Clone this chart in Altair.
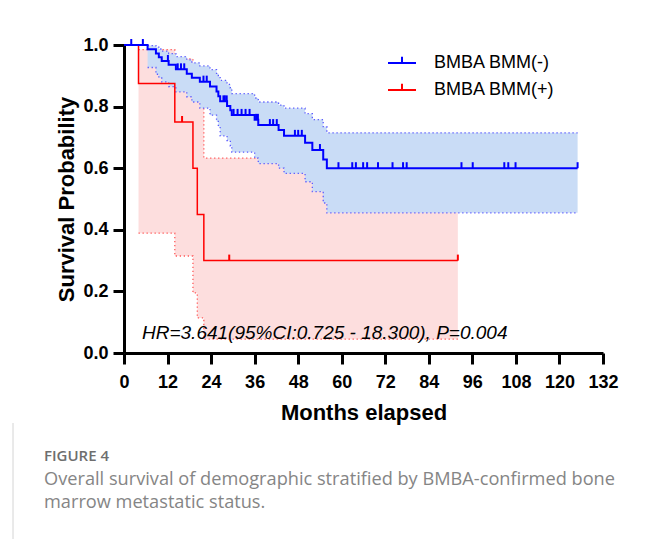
import altair as alt
import numpy as np
import pandas as pd

# ---------------- data ----------------
groups = ["BMBA BMM(-)", "BMBA BMM(+)"]

# Kaplan-Meier steps, BMBA BMM(-)
blue_t = [0, 6.5, 8.8, 9.6, 10.4, 12.3, 14.3, 17.3, 18.7, 20.9, 23.7, 25.5, 26.0, 26.5,
          28.4, 29.3, 29.7, 36.0, 37.0, 42.6, 44.1, 49.9, 51.9, 54.9, 55.9, 125.0]
blue_s = [1.0, 0.986, 0.972, 0.960, 0.948, 0.936, 0.921, 0.907, 0.894, 0.881, 0.865, 0.849,
          0.834, 0.817, 0.802, 0.788, 0.773, 0.757, 0.740, 0.724, 0.705, 0.683, 0.659,
          0.628, 0.600, 0.600]
blue_censor = [2.0, 5.2, 12.1, 14.8, 15.7, 16.6, 21.9, 22.8, 27.4, 27.8, 28.3, 30.2, 31.3,
               32.4, 33.5, 34.6, 36.4, 36.9, 40.2, 41.1, 42.1, 47.1, 48.0, 49.0, 54.0,
               59.1, 62.9, 63.9, 65.9, 67.0, 70.0, 74.0, 76.9, 77.9, 93.0, 96.1, 104.8,
               105.9, 107.9, 125.0]
# 95% CI band, BMBA BMM(-)
blue_ci_t = blue_t[1:]
blue_hi = [0.998, 0.993, 0.987, 0.980, 0.972, 0.962, 0.952, 0.942, 0.932, 0.920, 0.908,
           0.897, 0.885, 0.872, 0.860, 0.842, 0.828, 0.815, 0.805, 0.795, 0.777, 0.758,
           0.735, 0.715, 0.715]
blue_lo = [0.927, 0.905, 0.893, 0.880, 0.865, 0.848, 0.832, 0.815, 0.795, 0.772, 0.752,
           0.735, 0.705, 0.690, 0.672, 0.652, 0.633, 0.615, 0.600, 0.583, 0.556, 0.524,
           0.487, 0.455, 0.455]

# Kaplan-Meier steps, BMBA BMM(+)
red_t = [0, 4.0, 14.0, 19.0, 20.2, 22.0, 92.0]
red_s = [1.0, 0.875, 0.75, 0.60, 0.45, 0.30, 0.30]
red_censor = [16.0, 29.0, 92.0]
red_ci_t = red_t[1:]
red_hi = [0.985, 0.955, 0.90, 0.84, 0.633, 0.633]
red_lo = [0.389, 0.315, 0.195, 0.114, 0.045, 0.045]

x_ticks = list(range(0, 133, 12))
y_ticks = [0.0, 0.2, 0.4, 0.6, 0.8, 1.0]

hr_text = "HR=3.641(95%CI:0.725 - 18.300), P=0.004"
fig_label = "FIGURE 4"
caption1 = "Overall survival of demographic stratified by BMBA-confirmed bone"
caption2 = "marrow metastatic status."

# ---------------- tables ----------------
def surv_at(times, t_steps, s_steps):
    idx = np.searchsorted(np.array(t_steps), np.array(times), side="right") - 1
    return list(np.array(s_steps)[idx])

km_blue = pd.DataFrame({"t": blue_t, "s": blue_s, "group": groups[0]})
km_red = pd.DataFrame({"t": red_t, "s": red_s, "group": groups[1]})
cens = pd.concat([
    pd.DataFrame({"t": blue_censor, "s": surv_at(blue_censor, blue_t, blue_s), "group": groups[0]}),
    pd.DataFrame({"t": red_censor, "s": surv_at(red_censor, red_t, red_s), "group": groups[1]}),
])
ci_blue = pd.DataFrame({"t": blue_ci_t, "lo": blue_lo, "hi": blue_hi})
ci_red = pd.DataFrame({"t": red_ci_t, "lo": red_lo, "hi": red_hi})

FONT = "Liberation Sans"
x_scale = alt.Scale(domain=[0, 132], nice=False, zero=False)
y_scale = alt.Scale(domain=[0, 1], nice=False)

x_axis = alt.Axis(values=x_ticks, title="Months elapsed", grid=False,
                  labelFont=FONT, labelFontWeight="bold", labelFontSize=18, labelColor="black",
                  labelPadding=9, tickSize=11, tickWidth=3, tickColor="black",
                  domainWidth=3, domainColor="black", labelFlush=False,
                  titleFont=FONT, titleFontWeight="bold", titleFontSize=22, titleColor="black",
                  titleY=66, titleBaseline="alphabetic")
y_axis = alt.Axis(values=y_ticks, format=".1f", title="Survival Probability", grid=False,
                  labelFont=FONT, labelFontWeight="bold", labelFontSize=18, labelColor="black",
                  labelPadding=5, tickSize=11, tickWidth=3, tickColor="black",
                  domainWidth=3, domainColor="black", labelFlush=False,
                  titleFont=FONT, titleFontWeight="bold", titleFontSize=22, titleColor="black",
                  titleX=-51, titleY=154, titleAngle=-90, titleAlign="center",
                  titleBaseline="alphabetic")

X = alt.X("t:Q", scale=x_scale, axis=x_axis)
Y = lambda f: alt.Y(f, scale=y_scale, axis=y_axis)

legend = alt.Legend(orient="none", legendX=263, legendY=3, title=None,
                    symbolType="M-1,0L1,0M0,0L0,-0.45", symbolSize=784,
                    symbolStrokeWidth=2, labelFont=FONT, labelFontSize=18,
                    labelColor="black", labelOffset=17, rowPadding=3, labelLimit=300)
color = alt.Color("group:N", scale=alt.Scale(domain=groups, range=["#0000ff", "#ff0000"]),
                  legend=legend)

DASH = [1.3, 2.7]
pink = alt.Chart(ci_red).mark_area(interpolate="step-after", color="#fddede", opacity=1).encode(
    x=X, y=Y("lo:Q"), y2="hi:Q")
red_lo_l = alt.Chart(ci_red).mark_line(interpolate="step-after", color="#ff5a5a",
                                        strokeWidth=1.3, strokeDash=DASH).encode(x=X, y=Y("lo:Q"))
red_hi_l = alt.Chart(ci_red).mark_line(interpolate="step-after", color="#ff5a5a",
                                        strokeWidth=1.3, strokeDash=DASH).encode(x=X, y=Y("hi:Q"))
blue_band = alt.Chart(ci_blue).mark_area(interpolate="step-after", color="#c9dcf6", opacity=1).encode(
    x=X, y=Y("lo:Q"), y2="hi:Q")
blue_lo_l = alt.Chart(ci_blue).mark_line(interpolate="step-after", color="#5a5aff",
                                          strokeWidth=1.3, strokeDash=DASH).encode(x=X, y=Y("lo:Q"))
blue_hi_l = alt.Chart(ci_blue).mark_line(interpolate="step-after", color="#5a5aff",
                                          strokeWidth=1.3, strokeDash=DASH).encode(x=X, y=Y("hi:Q"))

red_line = alt.Chart(km_red).mark_line(interpolate="step-after", strokeWidth=1.5).encode(
    x=X, y=Y("s:Q"), color=color)
blue_line = alt.Chart(km_blue).mark_line(interpolate="step-after", strokeWidth=2).encode(
    x=X, y=Y("s:Q"), color=color)
ticks = alt.Chart(cens).mark_point(shape="M0,-1L0,0", size=144, strokeWidth=2,
                                    filled=False, opacity=1).encode(x=X, y=Y("s:Q"), color=color)

one = pd.DataFrame({"a": [0]})
hr = alt.Chart(one).mark_text(text=hr_text, font=FONT, fontStyle="italic", fontSize=19,
                              align="left", baseline="alphabetic", color="black").encode(
    x=alt.value(18), y=alt.value(294))
fig_l = alt.Chart(one).mark_text(text=fig_label, font="Open Sans", fontSize=15, fontWeight=600,
                                 align="left", baseline="alphabetic", color="#6e6e6e").encode(
    x=alt.value(-80), y=alt.value(416))
cap1 = alt.Chart(one).mark_text(text=caption1, font="Open Sans", fontSize=18.2,
                                align="left", baseline="alphabetic", color="#858585").encode(
    x=alt.value(-80), y=alt.value(440))
cap2 = alt.Chart(one).mark_text(text=caption2, font="Open Sans", fontSize=18.2,
                                align="left", baseline="alphabetic", color="#858585").encode(
    x=alt.value(-80), y=alt.value(463))
border = alt.Chart(one).mark_rule(color="#d4d4d4", strokeWidth=1).encode(
    x=alt.value(-111), y=alt.value(378), y2=alt.value(494))

chart = alt.layer(pink, red_lo_l, red_hi_l, blue_band, blue_lo_l, blue_hi_l,
                  red_line, blue_line, ticks, hr, fig_l, cap1, cap2, border).properties(
    width=479, height=308,
    padding={"left": 124, "top": 45, "right": 53, "bottom": 186},
    autosize=alt.AutoSizeParams(type="none"),
    background="white",
).configure_view(stroke=None)

chart.save("out.html", embed_options={"renderer": "svg", "actions": False})
